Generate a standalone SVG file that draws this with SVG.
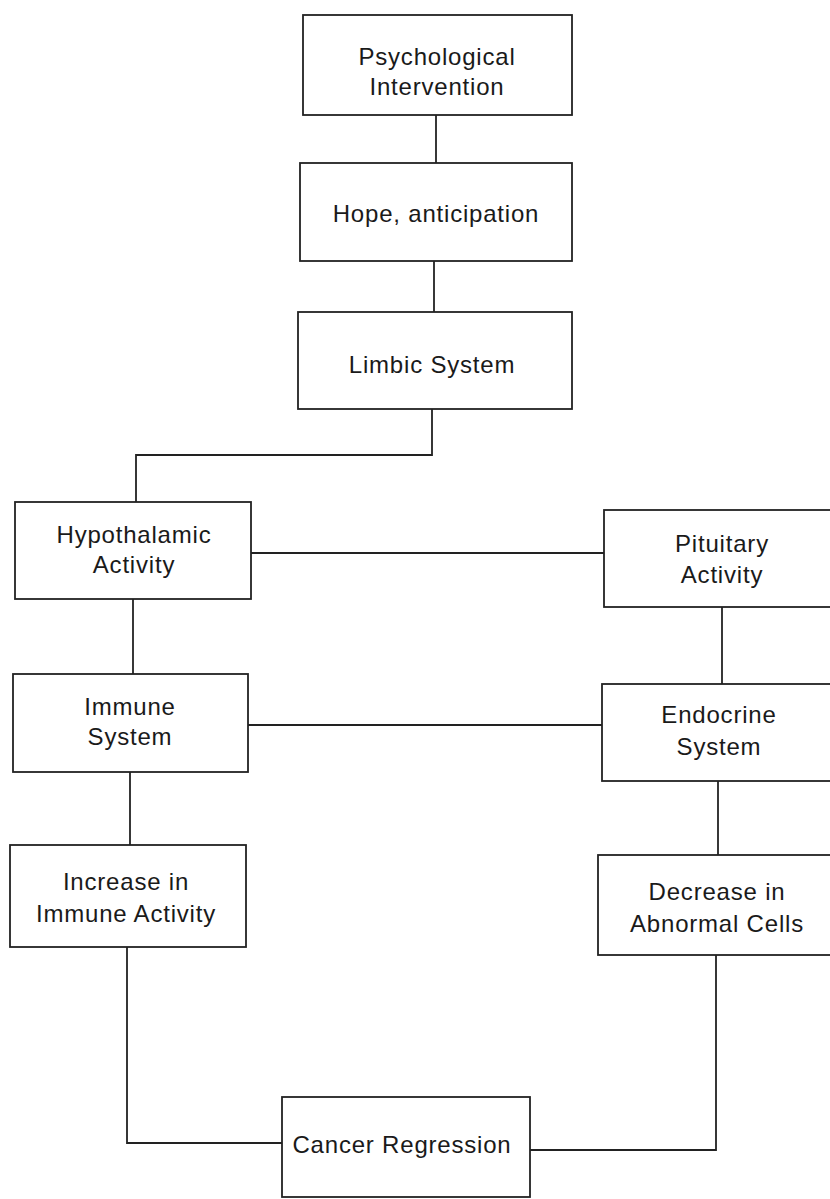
<svg xmlns="http://www.w3.org/2000/svg" width="830" height="1199" viewBox="0 0 830 1199">
<style>
.box{fill:#fff;stroke:#222;stroke-width:1.8}
.ln{fill:none;stroke:#222;stroke-width:1.8}
text{font-family:"Liberation Sans",Arial,sans-serif;font-size:24px;fill:#1a1a1a;text-anchor:middle;letter-spacing:0.8px}
</style>
<rect width="830" height="1199" fill="#fff"/>
<g id="connectors">
<path class="ln" d="M436 115V163"/>
<path class="ln" d="M434 261V312"/>
<path class="ln" d="M432 409V455H136V502"/>
<path class="ln" d="M251 553H604"/>
<path class="ln" d="M133 599V674"/>
<path class="ln" d="M248 725H602"/>
<path class="ln" d="M722 607V684"/>
<path class="ln" d="M718 781V855"/>
<path class="ln" d="M130 772V845"/>
<path class="ln" d="M127 947V1143H282"/>
<path class="ln" d="M716 955V1150H530"/>
</g>
<g id="psych"><rect class="box" x="303" y="15" width="269" height="100"/><text x="437" y="65">Psychological</text><text x="437" y="95">Intervention</text></g>
<g id="hope"><rect class="box" x="300" y="163" width="272" height="98"/><text x="436" y="222">Hope, anticipation</text></g>
<g id="limbic"><rect class="box" x="298" y="312" width="274" height="97"/><text x="432" y="373">Limbic System</text></g>
<g id="hypo"><rect class="box" x="15" y="502" width="236" height="97"/><text x="134" y="543">Hypothalamic</text><text x="134" y="573">Activity</text></g>
<g id="pituitary"><rect class="box" x="604" y="510" width="240" height="97"/><text x="722" y="552">Pituitary</text><text x="722" y="583">Activity</text></g>
<g id="immune"><rect class="box" x="13" y="674" width="235" height="98"/><text x="130" y="715">Immune</text><text x="130" y="745">System</text></g>
<g id="endocrine"><rect class="box" x="602" y="684" width="240" height="97"/><text x="719" y="723">Endocrine</text><text x="719" y="755">System</text></g>
<g id="increase"><rect class="box" x="10" y="845" width="236" height="102"/><text x="126" y="890">Increase in</text><text x="126" y="922">Immune Activity</text></g>
<g id="decrease"><rect class="box" x="598" y="855" width="244" height="100"/><text x="717" y="900">Decrease in</text><text x="717" y="932">Abnormal Cells</text></g>
<g id="cancer"><rect class="box" x="282" y="1097" width="248" height="100"/><text x="402" y="1153">Cancer Regression</text></g>
</svg>
